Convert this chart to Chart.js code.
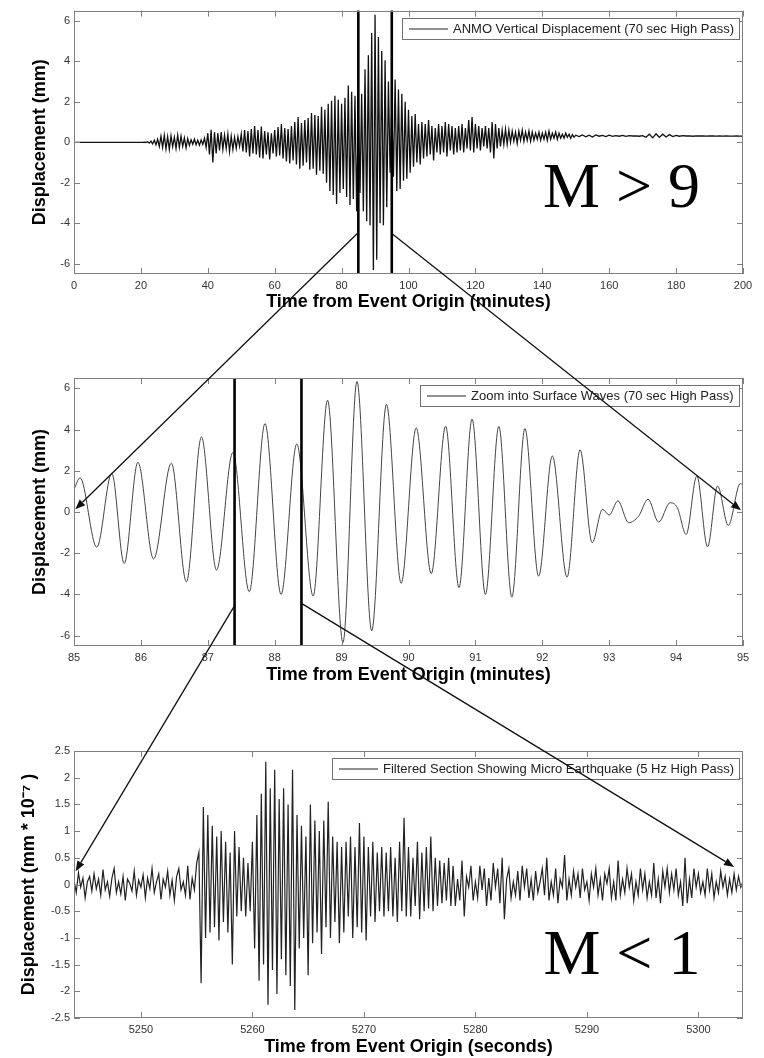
<!DOCTYPE html>
<html><head><meta charset="utf-8">
<script src="https://cdn.jsdelivr.net/npm/chart.js@4.4.1/dist/chart.umd.min.js"></script>
<style>
html,body{margin:0;padding:0;background:#fff;}
#wrap{position:relative;width:764px;height:1058px;overflow:hidden;background:#fff;}
#wrap canvas{position:absolute;left:0;top:0;}
</style></head><body>
<div id="wrap">
<canvas id="c1" width="764" height="1058"></canvas>
<canvas id="c2" width="764" height="1058"></canvas>
<canvas id="c3" width="764" height="1058"></canvas>
</div>
<script>
// ---------- Panel 1: ANMO vertical displacement (minutes) ----------
const p1Label = 'ANMO Vertical Displacement (70 sec High Pass)';
const p1LeadTimes = [0];
const p1LeadValues = [0];
const p1StartMin = 20, p1StepMin = 0.5;
const p1Values = [
  0, 0, 0.01, -0.01, 0.03, -0.04, 0.06, -0.08, 0.1, -0.12,
  0.15, -0.2, 0.3, -0.25, 0.35, -0.33, 0.28, -0.35, 0.32, -0.22,
  0.25, -0.3, 0.36, -0.25, 0.3, -0.2, 0.22, -0.28, 0.18, -0.15,
  0.12, -0.1, 0.15, -0.12, 0.1, -0.14, 0.12, -0.1, 0.2, -0.25,
  0.45, -0.6, 0.62, -1.0, 0.5, -0.55, 0.45, -0.4, 0.5, -0.35,
  0.35, -0.3, 0.4, -0.45, 0.3, -0.35, 0.25, -0.3, 0.28, -0.2,
  0.4, -0.45, 0.6, -0.5, 0.55, -0.7, 0.65, -0.55, 0.8, -0.6,
  0.6, -0.75, 0.78, -0.8, 0.55, -0.6, 0.5, -0.85, 0.45, -0.55,
  0.6, -0.7, 0.75, -0.65, 0.9, -0.8, 0.7, -0.95, 0.65, -1.05,
  0.8, -0.9, 1.0, -1.1, 1.25, -1.3, 0.95, -1.15, 1.1, -1.0,
  1.2, -1.35, 1.45, -1.3, 1.35, -1.6, 1.3, -1.4, 1.75, -1.55,
  1.6, -2.0, 1.9, -2.4, 2.05, -2.6, 2.3, -3.05, 2.1, -2.5,
  1.9, -2.3, 2.2, -2.7, 2.8, -3.1, 2.5, -2.8, 2.3, -3.4,
  1.6, -2.5, 2.4, -3.4, 3.6, -3.9, 4.3, -4.1, 5.4, -6.3,
  6.3, -5.8, 5.2, -4.0, 4.5, -4.1, 4.05, -3.2, 3.0, -1.5,
  1.75, -1.7, 3.1, -2.4, 2.6, -2.3, 2.4, -1.9, 2.0, -1.8,
  1.6, -1.5, 1.3, -1.2, 1.4, -1.0, 0.9, -1.1, 1.0, -0.8,
  0.9, -0.7, 1.1, -0.6, 0.8, -0.9, 0.7, -0.5, 0.9, -0.6,
  0.8, -0.5, 1.0, -0.7, 0.9, -0.4, 0.8, -0.6, 0.7, -0.5,
  0.8, -0.4, 0.9, -0.5, 0.7, -0.3, 1.1, -0.4, 1.25, -0.5,
  0.9, -0.3, 0.8, -0.4, 0.7, -0.2, 0.8, -0.3, 0.7, -0.5,
  1.0, -0.8, 0.9, -0.3, 0.7, -0.2, 0.6, -0.1, 0.65, -0.1,
  0.6, 0.0, 0.55, 0.05, 0.5, -0.05, 0.55, 0.1, 0.6, 0.05,
  0.5, 0.1, 0.55, 0.05, 0.5, 0.1, 0.45, 0.15, 0.5, 0.1,
  0.45, 0.15, 0.5, 0.1, 0.55, 0.15, 0.45, 0.2, 0.5, 0.15,
  0.45, 0.2, 0.4, 0.2, 0.45, 0.25, 0.4, 0.2, 0.38, 0.25,
  0.35
];
const p1TailStartMin = 151, p1TailStepMin = 1;
const p1TailValues = [
  0.28, 0.36, 0.27, 0.35, 0.26, 0.36, 0.3, 0.34, 0.28, 0.35,
  0.29, 0.33, 0.3, 0.34, 0.29, 0.33, 0.31, 0.32, 0.3, 0.33,
  0.25, 0.4, 0.22, 0.42, 0.24, 0.4, 0.26, 0.38, 0.28, 0.34,
  0.3, 0.33, 0.31, 0.32, 0.3, 0.32, 0.31, 0.32, 0.3, 0.31,
  0.31, 0.3, 0.31, 0.3, 0.31, 0.3, 0.3, 0.31, 0.3, 0.3
];
const p1XTicks = [0, 20, 40, 60, 80, 100, 120, 140, 160, 180, 200];
const p1YTicks = [-6, -4, -2, 0, 2, 4, 6];
const p1Markers = [85, 95];
const p1BigText = 'M > 9';

// ---------- Panel 2: zoom into surface waves (minutes) ----------
const p2Label = 'Zoom into Surface Waves (70 sec High Pass)';
const p2Times = [85.0, 85.09, 85.34, 85.565, 85.75, 85.955, 86.19, 86.455, 86.68, 86.905,
  87.13, 87.375, 87.62, 87.855, 88.095, 88.33, 88.575, 88.79, 89.02, 89.23,
  89.45, 89.67, 89.89, 90.115, 90.34, 90.555, 90.755, 90.95, 91.15, 91.35,
  91.545, 91.74, 91.945, 92.15, 92.37, 92.565, 92.745, 92.9, 93.0, 93.13,
  93.29, 93.44, 93.58, 93.74, 93.91, 94.02, 94.15, 94.31, 94.47, 94.62,
  94.78, 94.96, 95.0];
const p2Values = [1.1, 1.66, -1.71, 1.88, -2.5, 2.41, -2.28, 2.37, -3.39, 3.64,
  -2.82, 2.89, -3.87, 4.29, -4.0, 3.3, -4.08, 5.42, -6.33, 6.33,
  -5.76, 5.22, -3.46, 4.08, -2.99, 4.16, -3.67, 4.51, -4.0, 4.15,
  -4.13, 4.05, -3.11, 2.72, -3.16, 3.02, -1.49, 0.13, -0.15, 0.54,
  -0.52, -0.2, 0.62, -0.49, 0.45, 0.2, -1.09, 1.75, -1.69, 1.26,
  -0.65, 1.38, 1.3];
const p2XTicks = [85, 86, 87, 88, 89, 90, 91, 92, 93, 94, 95];
const p2YTicks = [-6, -4, -2, 0, 2, 4, 6];
const p2Markers = [87.4, 88.4];

// ---------- Panel 3: micro earthquake (seconds) ----------
const p3Label = 'Filtered Section Showing Micro Earthquake (5 Hz High Pass)';
const p3StartSec = 5244, p3StepSec = 0.2;
const p3Values = [
  0.08, -0.15, 0.22, -0.05, 0.12, -0.25, 0.05, 0.15, -0.12, 0.2,
  -0.08, 0.1, -0.2, 0.28, -0.1, 0.05, -0.22, 0.12, 0.3, -0.15,
  0.05, -0.18, 0.15, -0.3, 0.1, 0.02, -0.12, 0.25, -0.2, 0.08,
  -0.05, 0.18, -0.25, 0.12, -0.08, 0.3, -0.15, 0.05, 0.2, -0.28,
  0.1, -0.05, 0.25, -0.2, 0.08, -0.3, 0.15, 0.3, -0.1, 0.05,
  -0.2, 0.35, -0.28, 0.12, -0.1, 0.4, 0.6, -1.85, 1.45, -1.0,
  1.3, -0.9, 1.1, -0.8, 0.9, -1.05, 1.0, -0.7, 0.8, -0.9,
  0.6, -1.5, 1.0, -0.6, 0.7, -0.5, 0.5, -0.6, 0.4, -0.5,
  0.8, -1.2, 1.3, -1.8, 1.7, -1.5, 2.3, -2.25, 1.8, -1.6,
  2.15, -2.05, 1.6, -1.4, 1.8, -1.7, 1.5, -1.9, 2.15, -2.35,
  1.3, -1.2, 1.1, -1.0, 0.9, -1.7, 1.5, -1.1, 1.2, -0.9,
  1.0, -1.3, 1.2, -0.8, 1.55, -1.0, 0.9, -0.7, 0.8, -1.1,
  0.7, -0.9, 0.8, -0.6, 0.9, -1.0, 0.7, -0.8, 1.15, -0.9,
  0.9, -1.05, 0.7, -0.6, 0.8, -0.7, 0.6, -0.5, 0.7, -0.6,
  0.6, -0.5, 0.7, -0.6, 0.5, -0.7, 0.8, -0.5, 1.25, -0.6,
  0.7, -0.6, 0.5, -0.4, 0.8, -0.65, 0.6, -0.5, 0.7, -0.45,
  0.9, -0.5, 0.5, -0.4, 0.45, -0.35, 0.4, -0.3, 0.5, -0.4,
  0.35, -0.4, 0.1, -0.3, 0.45, -0.6, 0.15, -0.05, 0.35, -0.3,
  0.05, -0.25, 0.35, -0.1, 0.3, -0.4, 0.12, -0.3, 0.4, -0.05,
  0.3, -0.35, 0.5, -0.65, 0.1, 0.3, -0.25, 0.05, -0.2, 0.25,
  -0.3, 0.35, -0.05, 0.3, -0.25, 0.1, -0.3, 0.25, -0.15, 0.05,
  0.3, -0.2, 0.5, -0.3, 0.05, -0.2, 0.3, -0.35, 0.1, -0.05,
  0.55, -0.3, 0.1, -0.2, 0.25, -0.05, 0.2, -0.25, 0.3, -0.1,
  0.05, -0.3, 0.2, -0.05, 0.3, -0.2, 0.1, -0.3, 0.2, 0.02,
  0.3, -0.25, 0.05, -0.3, 0.45, -0.2, 0.1, -0.15, 0.3, -0.05,
  0.2, -0.3, 0.05, -0.2, 0.3, -0.1, 0.2, -0.25, 0.05, -0.2,
  0.4, -0.25, 0.1, -0.35, 0.25, -0.05, 0.3, -0.15, 0.2, -0.1,
  0.3, -0.2, 0.05, -0.4, 0.5, -0.35, 0.1, -0.25, 0.3, -0.05,
  0.2, -0.15, 0.05, -0.2, 0.3, -0.1, 0.2, -0.25, 0.05, -0.15,
  0.25, -0.05, 0.15, -0.2, 0.1, -0.15, 0.2, -0.1, 0.15, -0.05,
  0.05
];
const p3XTicks = [5250, 5260, 5270, 5280, 5290, 5300];
const p3YTicks = [-2.5, -2, -1.5, -1, -0.5, 0, 0.5, 1, 1.5, 2, 2.5];
const p3BigText = 'M < 1';

// zoom arrows: [panel index, x value, y value]
const zoomArrows = [
  { from: [0, 85, -4.45], to: [1, 85.02, 0.13] },
  { from: [0, 95, -4.5], to: [1, 94.97, 0.08] },
  { from: [1, 87.4, -4.54], to: [2, 5244.15, 0.25] },
  { from: [1, 88.4, -4.43], to: [2, 5303.2, 0.33] }
];

// ---------- helpers ----------
const SANS = '"Liberation Sans", Arial, Helvetica, sans-serif';
const SERIF = '"Liberation Serif", "Times New Roman", serif';

function uniformPoints(start, step, vals) {
  return vals.map((v, i) => ({ x: start + i * step, y: v }));
}
function pairPoints(xs, ys) {
  return xs.map((x, i) => ({ x: x, y: ys[i] }));
}

const decor = {
  id: 'decor',
  afterDatasetsDraw(chart, args, opts) {
    const ctx = chart.ctx, a = chart.chartArea, x = chart.scales.x, y = chart.scales.y;
    ctx.save();
    ctx.strokeStyle = '#000'; ctx.lineWidth = 2.6;
    (opts.markers || []).forEach(v => {
      const px = x.getPixelForValue(v);
      ctx.beginPath(); ctx.moveTo(px, a.top); ctx.lineTo(px, a.bottom); ctx.stroke();
    });
    ctx.strokeStyle = '#808080'; ctx.lineWidth = 1;
    ctx.strokeRect(Math.round(a.left) + 0.5, Math.round(a.top) + 0.5,
      Math.round(a.right - a.left) - 1, Math.round(a.bottom - a.top) - 1);
    const L = 6;
    ctx.beginPath();
    x.ticks.forEach(t => {
      const px = Math.round(x.getPixelForValue(t.value)) + 0.5;
      ctx.moveTo(px, a.bottom); ctx.lineTo(px, a.bottom - L);
      ctx.moveTo(px, a.top); ctx.lineTo(px, a.top + L);
    });
    y.ticks.forEach(t => {
      const py = Math.round(y.getPixelForValue(t.value)) + 0.5;
      ctx.moveTo(a.left, py); ctx.lineTo(a.left + L, py);
      ctx.moveTo(a.right, py); ctx.lineTo(a.right - L, py);
    });
    ctx.stroke();
    const label = chart.data.datasets[0].label;
    ctx.font = '13px ' + SANS;
    const tw = ctx.measureText(label).width;
    const bw = Math.round(tw + 56), bh = 21;
    const bx = Math.round(a.right - 4 - bw), by = Math.round(a.top + 7);
    ctx.fillStyle = '#fff'; ctx.fillRect(bx, by, bw, bh);
    ctx.strokeStyle = '#707070'; ctx.lineWidth = 1;
    ctx.strokeRect(bx + 0.5, by + 0.5, bw, bh);
    ctx.strokeStyle = '#222';
    ctx.beginPath(); ctx.moveTo(bx + 7, by + bh / 2 + 0.5); ctx.lineTo(bx + 46, by + bh / 2 + 0.5); ctx.stroke();
    ctx.fillStyle = '#222'; ctx.textAlign = 'left'; ctx.textBaseline = 'middle';
    ctx.fillText(label, bx + 51, by + bh / 2 + 1);
    if (opts.bigText) {
      ctx.font = '64px ' + SERIF;
      ctx.fillStyle = '#000'; ctx.textBaseline = 'alphabetic';
      ctx.fillText(opts.bigText, x.getPixelForValue(opts.bigAt[0]), y.getPixelForValue(opts.bigAt[1]));
    }
    ctx.restore();
  }
};

function makeChart(id, p) {
  return new Chart(document.getElementById(id), {
    type: 'line',
    data: { datasets: [{
      label: p.label, data: p.points, borderColor: p.color, borderWidth: p.width || 1,
      pointRadius: 0, fill: false, tension: p.smooth ? 0.4 : 0,
      cubicInterpolationMode: p.smooth ? 'monotone' : 'default'
    }]},
    options: {
      responsive: false, animation: false, events: [],
      layout: { padding: p.pad },
      plugins: { legend: { display: false }, tooltip: { enabled: false },
        decor: { markers: p.markers, bigText: p.bigText, bigAt: p.bigAt } },
      scales: {
        x: {
          type: 'linear', min: p.xMin, max: p.xMax,
          grid: { display: false, drawTicks: false }, border: { display: false },
          afterBuildTicks: s => { s.ticks = p.xTicks.map(v => ({ value: v })); },
          afterFit: s => { s.height = p.xH; },
          ticks: { autoSkip: false, maxRotation: 0, padding: 5, color: '#333',
            font: { family: SANS, size: 11 }, callback: v => String(v) },
          title: { display: true, text: p.xTitle, color: '#000',
            font: { family: SANS, size: 18, weight: 'bold' }, padding: { top: 0, bottom: p.xTitlePad } }
        },
        y: {
          type: 'linear', min: p.yMin, max: p.yMax,
          grid: { display: false, drawTicks: false }, border: { display: false },
          afterBuildTicks: s => { s.ticks = p.yTicks.map(v => ({ value: v })); },
          afterFit: s => { s.width = 74; },
          ticks: { autoSkip: false, padding: 4, color: '#333',
            font: { family: SANS, size: 11 }, callback: v => String(v) },
          title: { display: true, text: p.yTitle, color: '#000',
            font: { family: SANS, size: 18, weight: 'bold' }, padding: { top: p.yTitlePad, bottom: 0 } }
        }
      }
    },
    plugins: [decor].concat(p.extraPlugins || [])
  });
}

const chart1 = makeChart('c1', {
  label: p1Label,
  points: pairPoints(p1LeadTimes, p1LeadValues)
    .concat(uniformPoints(p1StartMin, p1StepMin, p1Values))
    .concat(uniformPoints(p1TailStartMin, p1TailStepMin, p1TailValues)),
  color: '#111', width: 1.3,
  pad: { top: 6, right: 21, bottom: 738, left: 0 }, xH: 46, xTitlePad: 7, yTitlePad: 29,
  xMin: 0, xMax: 200, yMin: -6.5, yMax: 6.5, xTicks: p1XTicks, yTicks: p1YTicks,
  xTitle: 'Time from Event Origin (minutes)', yTitle: 'Displacement (mm)',
  markers: p1Markers, bigText: p1BigText, bigAt: [140.2, -3.19]
});

const chart2 = makeChart('c2', {
  label: p2Label, points: pairPoints(p2Times, p2Values), color: '#444', width: 1, smooth: true,
  pad: { top: 378, right: 21, bottom: 368, left: 0 }, xH: 44, xTitlePad: 4, yTitlePad: 29,
  xMin: 85, xMax: 95, yMin: -6.5, yMax: 6.5, xTicks: p2XTicks, yTicks: p2YTicks,
  xTitle: 'Time from Event Origin (minutes)', yTitle: 'Displacement (mm)',
  markers: p2Markers
});

const arrowPlugin = {
  id: 'zoomArrows',
  afterDraw(chart) {
    const charts = [chart1, chart2, chart];
    const ctx = chart.ctx;
    ctx.save();
    ctx.strokeStyle = '#111'; ctx.fillStyle = '#111'; ctx.lineWidth = 1.3;
    zoomArrows.forEach(ar => {
      const ca = charts[ar.from[0]], cb = charts[ar.to[0]];
      const x0 = ca.scales.x.getPixelForValue(ar.from[1]), y0 = ca.scales.y.getPixelForValue(ar.from[2]);
      const x1 = cb.scales.x.getPixelForValue(ar.to[1]), y1 = cb.scales.y.getPixelForValue(ar.to[2]);
      const ang = Math.atan2(y1 - y0, x1 - x0);
      const hl = 10, hw = 4;
      const bxp = x1 - hl * Math.cos(ang), byp = y1 - hl * Math.sin(ang);
      ctx.beginPath(); ctx.moveTo(x0, y0); ctx.lineTo(bxp, byp); ctx.stroke();
      ctx.beginPath();
      ctx.moveTo(x1, y1);
      ctx.lineTo(bxp - hw * Math.sin(ang), byp + hw * Math.cos(ang));
      ctx.lineTo(bxp + hw * Math.sin(ang), byp - hw * Math.cos(ang));
      ctx.closePath(); ctx.fill();
    });
    ctx.restore();
  }
};

const chart3 = makeChart('c3', {
  label: p3Label, points: uniformPoints(p3StartSec, p3StepSec, p3Values), color: '#222', width: 1.2,
  pad: { top: 751, right: 21, bottom: 0, left: 0 }, xH: 40, xTitlePad: 0, yTitlePad: 18,
  xMin: 5244, xMax: 5304, yMin: -2.5, yMax: 2.5, xTicks: p3XTicks, yTicks: p3YTicks,
  xTitle: 'Time from Event Origin (seconds)', yTitle: 'Displacement (mm * 10\u207B\u2077 )',
  bigText: p3BigText, bigAt: [5286.1, -1.67],
  extraPlugins: [arrowPlugin]
});
</script>
</body></html>
